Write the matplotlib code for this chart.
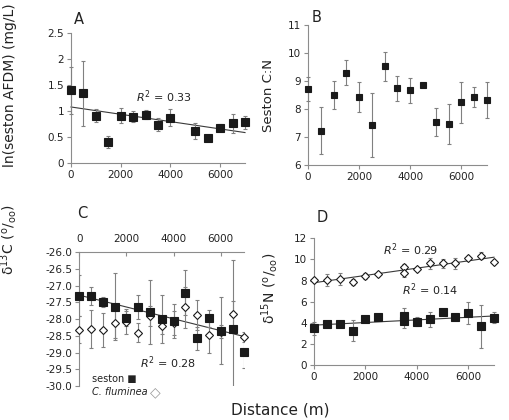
import numpy as np
import matplotlib
matplotlib.use('Agg')
import matplotlib.pyplot as plt
from matplotlib.ticker import FormatStrFormatter

# Panel A: ln(seston AFDM)
a_x = [0, 500, 1000, 1500, 2000, 2500, 3000, 3500, 4000, 5000, 5500, 6000, 6500, 7000]
a_y = [1.40, 1.34, 0.91, 0.40, 0.91, 0.89, 0.93, 0.74, 0.87, 0.62, 0.48, 0.68, 0.76, 0.78]
a_err = [0.45, 0.62, 0.12, 0.11, 0.14, 0.11, 0.09, 0.13, 0.16, 0.15, 0.05, 0.07, 0.18, 0.12]

# Panel B: seston C:N
b_x = [0, 500, 1000, 1500, 2000, 2500, 3000, 3500, 4000, 4500, 5000, 5500, 6000, 6500, 7000]
b_y = [8.71, 7.23, 8.50, 9.30, 8.42, 7.44, 9.52, 8.74, 8.67, 8.87, 7.54, 7.46, 8.24, 8.44, 8.31]
b_err = [0.44, 0.83, 0.49, 0.45, 0.54, 1.14, 0.53, 0.45, 0.44, 0.0, 0.49, 0.71, 0.73, 0.36, 0.64]

# Panel C: d13C, seston and C. fluminea
c_x = [0, 500, 1000, 1500, 2000, 2500, 3000, 3500, 4000, 4500, 5000, 5500, 6000, 6500, 7000]
c_seston = [-27.30, -27.30, -27.48, -27.63, -27.96, -27.64, -27.78, -28.00, -28.05, -27.21,
            -28.57, -27.98, -28.35, -28.29, -28.99]
c_seston_err = [0.62, 0.27, 0.15, 1.00, 0.25, 0.36, 0.95, 0.72, 0.50, 0.67, 0.35, 0.25, 1.00, 2.05, 0.48]
c_clam = [-28.32, -28.30, -28.32, -28.12, -28.10, -28.40, -27.90, -28.20, -28.12, -27.65,
          -27.88, -28.47, -28.37, -27.85, -28.52]
c_clam_err = [0.40, 0.57, 0.50, 0.45, 0.35, 0.27, 0.30, 0.25, 0.35, 0.60, 0.45, 0.55, 0.20, 0.40, 0.15]

# Panel D: d15N (two samples at 3500 m)
d_x = [0, 500, 1000, 1500, 2000, 2500, 3500, 3500, 4000, 4500, 5000, 5500, 6000, 6500, 7000]
d_clam = [8.05, 8.05, 8.15, 7.83, 8.43, 8.62, 9.25, 8.68, 9.06, 9.63, 9.63, 9.63, 10.10, 10.36, 9.72]
d_clam_err = [0.2, 0.55, 0.55, 0.3, 0.3, 0.2, 0.3, 0.3, 0.2, 0.55, 0.4, 0.5, 0.2, 0.3, 0.1]
d_seston = [3.47, 3.88, 3.88, 3.25, 4.36, 4.52, 4.67, 4.20, 4.10, 4.33, 4.99, 4.52, 4.90, 3.66, 4.48]
d_seston_err = [0.6, 0.15, 0.15, 1.0, 0.15, 0.2, 0.7, 0.7, 0.4, 0.7, 0.15, 0.1, 1.03, 2.05, 0.5]

W, H = 510, 420
SPINE = '#8c8c8c'
MARK = '#1a1a1a'
ERR = '#808080'
TXT = '#222222'


def px_axes(l, t, r, b):
    # pixel box (from top-left) -> figure fraction
    return [l / W, 1 - b / H, (r - l) / W, (b - t) / H]


def ftext(x, y, s, **kw):
    return fig.text(x / W, 1 - y / H, s, ha='center', va='center', color=TXT, **kw)


def style(ax, top=False):
    for s in ['right', 'top', 'bottom', 'left']:
        ax.spines[s].set_visible(False)
    ax.spines['left'].set_visible(True)
    ax.spines['top' if top else 'bottom'].set_visible(True)
    for s in ax.spines.values():
        s.set_color(SPINE)
        s.set_linewidth(0.8)
    ax.tick_params(length=3, width=0.8, color=SPINE, labelsize=7.5,
                   labelcolor=TXT, pad=2)
    ax.set_xlim(0, 7000)
    ax.set_xticks([0, 2000, 4000, 6000])


def points(ax, x, y, e, marker='s', ms=5, face=MARK, clip_bars=False):
    eb = ax.errorbar(x, y, yerr=e, fmt=marker, ms=ms, mfc=face, mec=MARK, mew=0.8,
                     ecolor=ERR, elinewidth=0.8, capsize=1.6, capthick=0.8, zorder=3)
    eb[0].set_clip_on(False)
    for art in list(eb[1]) + list(eb[2]):
        art.set_clip_on(clip_bars)
    return eb


def trend(ax, x, y):
    k, b = np.polyfit(x, y, 1)
    xs = np.array([0, 7000])
    ax.plot(xs, k * xs + b, color='#3a3a3a', lw=0.8, zorder=2, clip_on=False)


fig = plt.figure(figsize=(W / 100, H / 100), dpi=100)

# A
axA = fig.add_axes(px_axes(71, 33, 245, 163))
style(axA)
points(axA, a_x, a_y, a_err, ms=5.5)
trend(axA, a_x, a_y)
axA.set_ylim(0, 2.5)
axA.set_yticks([0, 0.5, 1, 1.5, 2, 2.5])
axA.set_yticklabels(['0', '0.5', '1', '1.5', '2', '2.5'])

# B
axB = fig.add_axes(px_axes(308, 25, 487, 165))
style(axB)
points(axB, b_x, b_y, b_err, ms=4.5)
axB.set_ylim(6, 11)
axB.set_yticks([6, 7, 8, 9, 10, 11])

# C
axC = fig.add_axes(px_axes(79.3, 252.3, 244.3, 386))
style(axC, top=True)
axC.xaxis.tick_top()
axC.tick_params(axis='x', direction='in', pad=6)
points(axC, c_x, c_clam, c_clam_err, marker='D', ms=4, face='white', clip_bars=True)
points(axC, c_x, c_seston, c_seston_err, ms=5.5, clip_bars=True)
trend(axC, c_x, c_seston)
axC.set_ylim(-30, -26)
axC.set_yticks(np.arange(-30, -25.9, 0.5))
axC.yaxis.set_major_formatter(FormatStrFormatter('%.1f'))

# legend written as text with the symbol after the name
t1 = ftext(92, 379, 'seston \u25a0', fontsize=7)
t1.set_ha('left')
t2 = ftext(92, 392, 'C. fluminea', fontsize=7, style='italic')
t2.set_ha('left')
axC.annotate('\u25c7', xy=(1, 0.5), xycoords=t2, xytext=(2, 0),
             textcoords='offset points', va='center', ha='left',
             fontsize=10, color='#999999', annotation_clip=False)

# D
axD = fig.add_axes(px_axes(314, 238.3, 494, 365))
style(axD)
points(axD, d_x, d_clam, d_clam_err, marker='D', ms=4, face='white')
points(axD, d_x, d_seston, d_seston_err, ms=5.5)
trend(axD, d_x, d_clam)
trend(axD, d_x, d_seston)
axD.set_ylim(0, 12)
axD.set_yticks([0, 2, 4, 6, 8, 10, 12])

# panel letters, R2 labels, axis titles
ftext(79, 20, 'A', fontsize=10.5)
ftext(317, 17, 'B', fontsize=10.5)
ftext(82, 214, 'C', fontsize=10.5)
ftext(322, 217, 'D', fontsize=10.5)

ftext(164, 97, r'$R^2$ = 0.33', fontsize=8)
ftext(168, 363, r'$R^2$ = 0.28', fontsize=8)
ftext(411, 250, r'$R^2$ = 0.29', fontsize=8)
ftext(430, 290, r'$R^2$ = 0.14', fontsize=8)

ftext(10, 85, 'ln(seston AFDM) (mg/L)', fontsize=10, rotation=90)
ftext(268, 96, 'Seston C:N', fontsize=9.5, rotation=90)
ftext(9, 240, 'δ$^{13}$C ($^{\\mathrm{o}}$/$_{\\mathrm{oo}}$)', fontsize=10, rotation=90)
ftext(270, 288, 'δ$^{15}$N ($^{\\mathrm{o}}$/$_{\\mathrm{oo}}$)', fontsize=10, rotation=90)
ftext(280, 410, 'Distance (m)', fontsize=11)

fig.savefig('out.png', dpi=100)
